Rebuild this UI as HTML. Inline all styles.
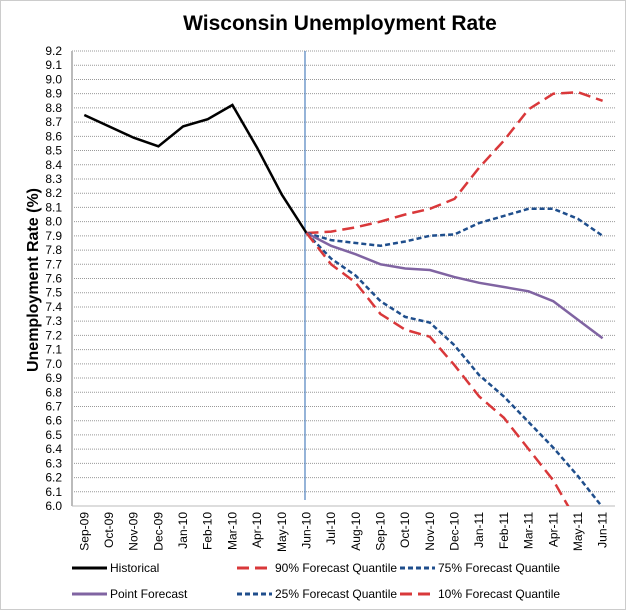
<!DOCTYPE html><html><head><style>body{margin:0;background:#fff}</style></head><body>
<svg width="626" height="610" xmlns="http://www.w3.org/2000/svg" font-family="Liberation Sans, sans-serif">
<rect x="0.5" y="0.5" width="625" height="609" fill="#fff" stroke="#999" stroke-dasharray="1,1"/>
<text x="340" y="30" text-anchor="middle" font-size="21" font-weight="bold">Wisconsin Unemployment Rate</text>
<text transform="translate(38,280) rotate(-90)" text-anchor="middle" font-size="16" font-weight="bold">Unemployment Rate (%)</text>
<g id="grid" stroke="#999" stroke-dasharray="1,1" stroke-width="1"></g>
<g id="ylab" font-size="12" text-anchor="end" fill="#000"></g>
<g id="xlab" font-size="12" text-anchor="end"></g>
<line x1="72" y1="51" x2="72" y2="506" stroke="#bbb" stroke-width="2"/>
<line x1="72" y1="506" x2="615" y2="506" stroke="#bbb" stroke-width="1"/>
<line x1="305" y1="51" x2="305" y2="500" stroke="#4f81bd" stroke-width="1.2"/>
<defs><clipPath id="c"><rect x="72" y="45" width="550" height="461"/></clipPath></defs>
<g id="series" clip-path="url(#c)" fill="none" stroke-width="2.5"></g>
<g font-size="12">
<line x1="72" y1="568" x2="107" y2="568" stroke="#000" stroke-width="3"/><text x="110" y="572">Historical</text>
<line x1="237" y1="568" x2="272" y2="568" stroke="#d9383a" stroke-width="3" stroke-dasharray="12,6"/><text x="275" y="572">90% Forecast Quantile</text>
<line x1="400" y1="568" x2="435" y2="568" stroke="#1f4e8c" stroke-width="3" stroke-dasharray="5,3"/><text x="438" y="572">75% Forecast Quantile</text>
<line x1="72" y1="594" x2="107" y2="594" stroke="#8064a2" stroke-width="3"/><text x="110" y="598">Point Forecast</text>
<line x1="237" y1="594" x2="272" y2="594" stroke="#1f4e8c" stroke-width="3" stroke-dasharray="5,3"/><text x="275" y="598">25% Forecast Quantile</text>
<line x1="400" y1="594" x2="435" y2="594" stroke="#d9383a" stroke-width="3" stroke-dasharray="12,6"/><text x="438" y="598">10% Forecast Quantile</text>
</g>
</svg>
<script>
const NS="http://www.w3.org/2000/svg";
const y=v=>506-(v-6)/3.2*455, x=i=>72+(i+0.5)*24.68;
const g=document.getElementById('grid'),yl=document.getElementById('ylab'),xl=document.getElementById('xlab');
for(let k=0;k<=32;k++){const v=6+k/10;
 if(k>0){const l=document.createElementNS(NS,'line');l.setAttribute('x1',72);l.setAttribute('x2',615);l.setAttribute('y1',y(v));l.setAttribute('y2',y(v));g.appendChild(l);}
 const t=document.createElementNS(NS,'text');t.setAttribute('x',62);t.setAttribute('y',y(v)+4);t.textContent=v.toFixed(1);yl.appendChild(t);}
const m=["Sep-09","Oct-09","Nov-09","Dec-09","Jan-10","Feb-10","Mar-10","Apr-10","May-10","Jun-10","Jul-10","Aug-10","Sep-10","Oct-10","Nov-10","Dec-10","Jan-11","Feb-11","Mar-11","Apr-11","May-11","Jun-11"];
m.forEach((s,i)=>{const t=document.createElementNS(NS,'text');t.setAttribute('transform',`translate(${x(i)+4},512) rotate(-90)`);t.textContent=s;xl.appendChild(t);});
const S=document.getElementById('series');
function add(d,off,col,dash){const p=document.createElementNS(NS,'polyline');p.setAttribute('points',d.map((v,i)=>x(i+off).toFixed(1)+','+y(v).toFixed(1)).join(' '));p.setAttribute('stroke',col);if(dash)p.setAttribute('stroke-dasharray',dash);S.appendChild(p);}
add([8.75,8.67,8.59,8.53,8.67,8.72,8.82,8.52,8.19,7.92],0,'#000');
add([7.92,7.93,7.96,8.00,8.05,8.09,8.16,8.38,8.57,8.79,8.90,8.91,8.85],9,'#d9383a','12,6');
add([7.92,7.87,7.85,7.83,7.86,7.90,7.91,7.99,8.04,8.09,8.09,8.02,7.90],9,'#1f4e8c','5,3');
add([7.92,7.83,7.77,7.70,7.67,7.66,7.61,7.57,7.54,7.51,7.44,7.31,7.18],9,'#8064a2');
add([7.92,7.74,7.62,7.44,7.33,7.29,7.13,6.92,6.77,6.59,6.41,6.21,5.99],9,'#1f4e8c','5,3');
add([7.92,7.70,7.57,7.35,7.24,7.19,6.99,6.77,6.62,6.40,6.18,5.88,5.6],9,'#d9383a','12,6');
</script>
</body></html>
